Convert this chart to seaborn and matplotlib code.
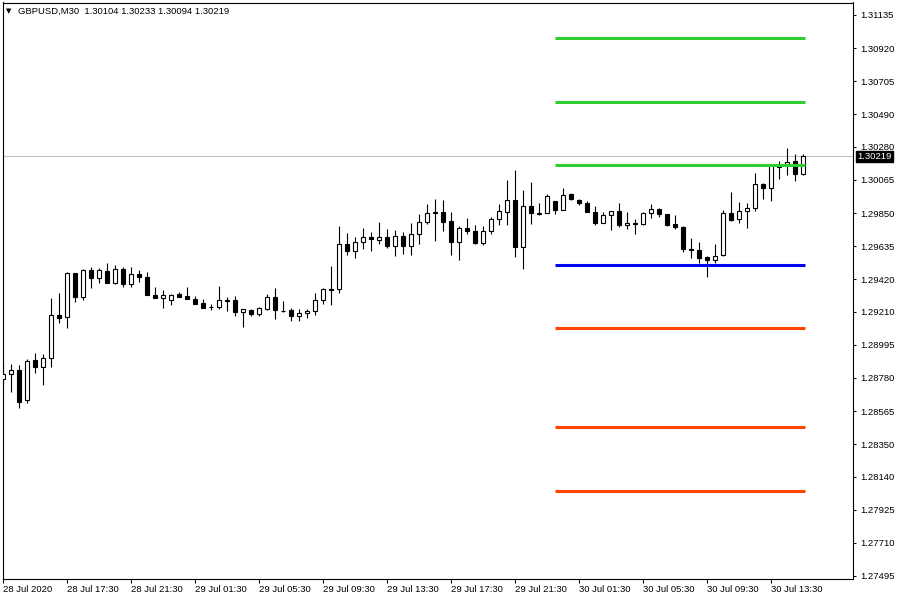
import matplotlib
matplotlib.use("Agg")
import matplotlib.pyplot as plt
import numpy as np
import seaborn as sns

# GBPUSD M30 candles, 28 Jul 13:30 -> 30 Jul 15:30
opens = [
    1.28773, 1.28804, 1.28832, 1.28635, 1.28896, 1.28853, 1.28911, 1.29188, 1.29173, 1.29459,
    1.29303, 1.29478, 1.29427, 1.29472, 1.29398, 1.29485, 1.29387, 1.29452, 1.29433, 1.29316,
    1.29297, 1.29284, 1.29323, 1.29310, 1.29290, 1.29264, 1.29240, 1.29238, 1.29284, 1.29284,
    1.29206, 1.29219, 1.29193, 1.29229, 1.29303, 1.29216, 1.29219, 1.29180, 1.29199, 1.29212,
    1.29284, 1.29355, 1.29355, 1.29649, 1.29606, 1.29660, 1.29692, 1.29673, 1.29692, 1.29634,
    1.29699, 1.29634, 1.29712, 1.29790, 1.29855, 1.29855, 1.29796, 1.29660, 1.29751, 1.29731,
    1.29654, 1.29731, 1.29809, 1.29855, 1.29933, 1.29632, 1.29894, 1.29848, 1.29848, 1.29926,
    1.29868, 1.29971, 1.29933, 1.29913, 1.29855, 1.29783, 1.29835, 1.29861, 1.29770, 1.29783,
    1.29777, 1.29848, 1.29874, 1.29842, 1.29777, 1.29757, 1.29617, 1.29608, 1.29563, 1.29543,
    1.29576, 1.29848, 1.29809, 1.29861, 1.29881, 1.30036, 1.30010, 1.30150, 1.30160, 1.30186,
    1.30104,
]
highs = [
    1.28877, 1.28870, 1.28862, 1.28903, 1.28940, 1.28933, 1.29297, 1.29329, 1.29465, 1.29459,
    1.29485, 1.29498, 1.29491, 1.29524, 1.29511, 1.29498, 1.29498, 1.29478, 1.29469, 1.29368,
    1.29349, 1.29323, 1.29338, 1.29368, 1.29310, 1.29290, 1.29258, 1.29375, 1.29303, 1.29310,
    1.29225, 1.29225, 1.29240, 1.29323, 1.29362, 1.29277, 1.29232, 1.29225, 1.29225, 1.29329,
    1.29362, 1.29506, 1.29766, 1.29718, 1.29692, 1.29751, 1.29725, 1.29790, 1.29744, 1.29738,
    1.29725, 1.29783, 1.29842, 1.29909, 1.29939, 1.29935, 1.29855, 1.29764, 1.29816, 1.29770,
    1.29764, 1.29822, 1.29909, 1.30064, 1.30127, 1.29997, 1.30049, 1.29913, 1.29971, 1.29926,
    1.30010, 1.29978, 1.29939, 1.29926, 1.29894, 1.29855, 1.29861, 1.29913, 1.29855, 1.29809,
    1.29855, 1.29907, 1.29881, 1.29842, 1.29835, 1.29764, 1.29686, 1.29660, 1.29569, 1.29647,
    1.29868, 1.29984, 1.29920, 1.29913, 1.30108, 1.30043, 1.30160, 1.30186, 1.30270, 1.30231,
    1.30233,
]
lows = [
    1.28728, 1.28691, 1.28587, 1.28615, 1.28814, 1.28734, 1.28853, 1.29138, 1.29106, 1.29275,
    1.29286, 1.29365, 1.29394, 1.29394, 1.29389, 1.29368, 1.29372, 1.29400, 1.29316, 1.29297,
    1.29232, 1.29251, 1.29303, 1.29290, 1.29262, 1.29232, 1.29223, 1.29225, 1.29216, 1.29180,
    1.29112, 1.29180, 1.29180, 1.29223, 1.29164, 1.29206, 1.29148, 1.29148, 1.29167, 1.29186,
    1.29258, 1.29251, 1.29329, 1.29580, 1.29560, 1.29615, 1.29606, 1.29647, 1.29621, 1.29573,
    1.29586, 1.29580, 1.29647, 1.29777, 1.29670, 1.29731, 1.29580, 1.29547, 1.29712, 1.29647,
    1.29641, 1.29712, 1.29770, 1.29770, 1.29567, 1.29485, 1.29777, 1.29835, 1.29848, 1.29842,
    1.29868, 1.29933, 1.29900, 1.29855, 1.29770, 1.29783, 1.29738, 1.29757, 1.29744, 1.29712,
    1.29770, 1.29816, 1.29822, 1.29764, 1.29744, 1.29595, 1.29556, 1.29524, 1.29437, 1.29524,
    1.29569, 1.29796, 1.29783, 1.29751, 1.29861, 1.29939, 1.29926, 1.30069, 1.30095, 1.30056,
    1.30094,
]
closes = [
    1.28806, 1.28832, 1.28626, 1.28890, 1.28853, 1.28907, 1.29188, 1.29171, 1.29459, 1.29303,
    1.29478, 1.29427, 1.29478, 1.29398, 1.29485, 1.29387, 1.29452, 1.29433, 1.29316, 1.29297,
    1.29316, 1.29316, 1.29303, 1.29290, 1.29262, 1.29232, 1.29240, 1.29284, 1.29277, 1.29206,
    1.29225, 1.29193, 1.29232, 1.29303, 1.29219, 1.29216, 1.29180, 1.29199, 1.29212, 1.29284,
    1.29355, 1.29349, 1.29647, 1.29606, 1.29660, 1.29692, 1.29679, 1.29692, 1.29634, 1.29699,
    1.29634, 1.29712, 1.29790, 1.29848, 1.29848, 1.29790, 1.29660, 1.29751, 1.29731, 1.29654,
    1.29731, 1.29809, 1.29861, 1.29933, 1.29632, 1.29894, 1.29848, 1.29842, 1.29959, 1.29868,
    1.29965, 1.29939, 1.29913, 1.29855, 1.29783, 1.29835, 1.29861, 1.29770, 1.29783, 1.29777,
    1.29848, 1.29874, 1.29842, 1.29770, 1.29757, 1.29615, 1.29608, 1.29556, 1.29543, 1.29569,
    1.29848, 1.29803, 1.29861, 1.29881, 1.30036, 1.30010, 1.30160, 1.30160, 1.30179, 1.30101,
    1.30219,
]

time_labels = ["28 Jul 2020", "28 Jul 17:30", "28 Jul 21:30", "29 Jul 01:30",
               "29 Jul 05:30", "29 Jul 09:30", "29 Jul 13:30", "29 Jul 17:30",
               "29 Jul 21:30", "30 Jul 01:30", "30 Jul 05:30", "30 Jul 09:30",
               "30 Jul 13:30"]
price_ticks = [1.31135, 1.30920, 1.30705, 1.30490, 1.30280, 1.30065, 1.29850,
               1.29635, 1.29420, 1.29210, 1.28995, 1.28780, 1.28565, 1.28350,
               1.28140, 1.27925, 1.27710, 1.27495]

# daily levels drawn from 30 Jul 00:00
resistance = [1.30986, 1.30571, 1.30162]
pivot = 1.29513
support = [1.29104, 1.28462, 1.28047]
level_start = 69

symbol = "GBPUSD,M30"
bid = 1.30219

sns.set_theme(style="white")
plt.rcParams["font.family"] = ["Liberation Sans", "DejaVu Sans"]
fs = 6.8

fig = plt.figure(figsize=(9, 6), dpi=100)
ax = fig.add_axes([2.5 / 900, 21 / 600, 850.5 / 900, 576.5 / 600])

o = np.array(opens)
h = np.array(highs)
l = np.array(lows)
c = np.array(closes)
x = np.arange(len(o))

# bid line
ax.axhline(bid, color="#c0c0c0", lw=0.8, zorder=1)

# candles
ax.vlines(x, l, h, color="black", lw=0.8, zorder=2)
bull = c >= o
ax.bar(x[bull], (c - o)[bull], bottom=o[bull], width=0.5, color="white",
       edgecolor="black", linewidth=0.8, zorder=3)
ax.bar(x[~bull], (o - c)[~bull], bottom=c[~bull], width=0.5, color="black",
       edgecolor="black", linewidth=0.8, zorder=3)

# levels
xend = len(o) - 0.75
ax.hlines(resistance, level_start, xend, color="#32cd32", lw=2.2, zorder=4)
ax.hlines([pivot], level_start, xend, color="#0000ff", lw=2.2, zorder=4)
ax.hlines(support, level_start, xend, color="#ff4500", lw=2.2, zorder=4)

ax.set_xlim(-0.0625, 106.25)
ax.set_ylim(1.274755, 1.312159)

ax.yaxis.tick_right()
ax.set_yticks(price_ticks)
ax.set_yticklabels([f"{p:.5f}" for p in price_ticks], fontsize=fs, color="black")
ax.tick_params(axis="y", which="both", right=True, left=False, direction="out",
               length=2.5, width=0.75, pad=3, colors="black")

xt = np.arange(0, len(o), 8)[:len(time_labels)]
ax.set_xticks(xt)
ax.set_xticklabels(time_labels, fontsize=fs, ha="left", color="black")
ax.tick_params(axis="x", bottom=True, direction="out", length=3, width=0.75,
               pad=1.5, colors="black")

for s in ax.spines.values():
    s.set_visible(True)
    s.set_color("black")
    s.set_linewidth(0.8)

ax.annotate(f"{bid:.5f}", xy=(1, bid), xycoords=("axes fraction", "data"),
            xytext=(3, 0), textcoords="offset points", va="center", ha="left",
            fontsize=fs, color="white",
            bbox=dict(boxstyle="square,pad=0.12", fc="black", ec="black"))

fig.text(9 / 900, 1 - 11 / 600, "\u25bc", fontsize=5, ha="center", va="center",
         family="DejaVu Sans", color="black")
header = f"{symbol}  {opens[-1]:.5f} {highs[-1]:.5f} {lows[-1]:.5f} {closes[-1]:.5f}"
fig.text(18 / 900, 1 - 11 / 600, header, fontsize=fs, ha="left", va="center",
         color="black")

fig.savefig("out.png", dpi=100)
